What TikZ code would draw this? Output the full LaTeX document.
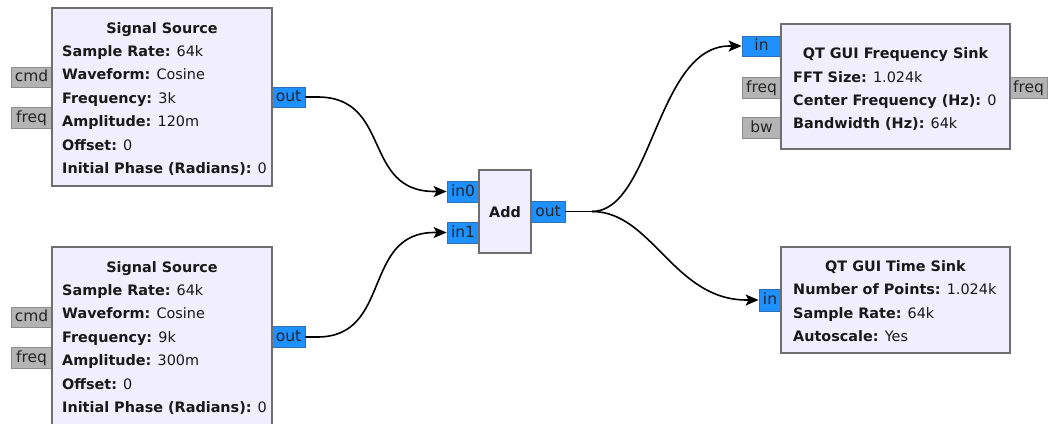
\documentclass[tikz,border=0pt]{standalone}
\usepackage{fontspec}
\setmainfont{DejaVu Sans}
\usetikzlibrary{arrows.meta,calc}
\definecolor{blkfill}{HTML}{F1EEFD}
\definecolor{blkdraw}{HTML}{6E6E6E}
\definecolor{pblue}{HTML}{1E90FF}
\definecolor{pbluedraw}{HTML}{2E6FB5}
\definecolor{pgray}{HTML}{B4B4B4}
\definecolor{pgraydraw}{HTML}{8E8E8E}
\tikzset{
  blk/.style={draw=blkdraw,fill=blkfill,line width=2pt},
  port/.style={line width=0.8pt,inner sep=0pt,font=\fontsize{15.5}{15.5}\selectfont,text=black!85,text height=12.5pt,text depth=3.5pt},
  bport/.style={port,draw=pbluedraw,fill=pblue},
  gport/.style={port,draw=pgraydraw,fill=pgray},
  ttl/.style={font=\bfseries\fontsize{14.4}{15}\selectfont,text=black!90,inner sep=0pt,text height=12pt,text depth=1.6pt},
  prm/.style={anchor=west,font=\fontsize{14.4}{15}\selectfont,text=black!90,inner sep=0pt,text height=12pt,text depth=1.6pt},
  conn/.style={line width=1.6pt,-{Stealth[length=13pt,width=11pt,inset=3pt]}},
  connb/.style={line width=1.6pt}
}
\begin{document}
\begin{tikzpicture}[x=1pt,y=-1pt]
\useasboundingbox (0,0) rectangle (1052,423);
\fill[white] (0,0) rectangle (1052,423);
\begin{scope}
\clip (0,0) rectangle (1052,423);
% ---------- Signal Source 1
\node[gport,minimum width=41pt,minimum height=20pt] (s1cmd) at (31.5,77) {cmd};
\node[gport,minimum width=41pt,minimum height=21pt] (s1freq) at (31.5,118) {freq};
\node[bport,minimum width=33pt,minimum height=20pt] (s1out) at (288.5,97) {out};
\draw[blk] (52,8) rectangle (272,186);
\node[ttl] (s1t) at (162,28) {Signal Source};
\node[prm] (s1a) at (62,51) {\textbf{Sample Rate:} 64k};
\node[prm] (s1b) at (62,74) {\textbf{Waveform:} Cosine};
\node[prm] (s1c) at (62,98) {\textbf{Frequency:} 3k};
\node[prm] (s1d) at (62,121) {\textbf{Amplitude:} 120m};
\node[prm] (s1e) at (62,145) {\textbf{Offset:} 0};
\node[prm] (s1f) at (62,168) {\textbf{Initial Phase (Radians):} 0};
% ---------- Signal Source 2
\node[gport,minimum width=41pt,minimum height=20pt] (s2cmd) at (31.5,317) {cmd};
\node[gport,minimum width=41pt,minimum height=21pt] (s2freq) at (31.5,357.5) {freq};
\node[bport,minimum width=33pt,minimum height=21pt] (s2out) at (288.5,337) {out};
\draw[blk] (52,247) rectangle (272,428);
\node[ttl] (s2t) at (162,267) {Signal Source};
\node[prm] (s2a) at (62,290) {\textbf{Sample Rate:} 64k};
\node[prm] (s2b) at (62,313) {\textbf{Waveform:} Cosine};
\node[prm] (s2c) at (62,337) {\textbf{Frequency:} 9k};
\node[prm] (s2d) at (62,360) {\textbf{Amplitude:} 300m};
\node[prm] (s2e) at (62,384) {\textbf{Offset:} 0};
\node[prm] (s2f) at (62,407) {\textbf{Initial Phase (Radians):} 0};
% ---------- Add
\node[bport,minimum width=32pt,minimum height=21pt] (in0) at (463,191.5) {in0};
\node[bport,minimum width=32pt,minimum height=21pt] (in1) at (463,232.5) {in1};
\node[bport,minimum width=34pt,minimum height=21pt] (aout) at (548,211.5) {out};
\draw[blk] (479,170) rectangle (531,253);
\node[ttl] (addt) at (505,212) {Add};
% ---------- QT GUI Frequency Sink
\node[bport,minimum width=39pt,minimum height=20pt] (fin) at (761.5,46) {in};
\node[gport,minimum width=39pt,minimum height=21pt] (ffreq) at (761.5,87.5) {freq};
\node[gport,minimum width=39pt,minimum height=21pt] (fbw) at (761.5,127.5) {bw};
\node[gport,minimum width=37pt,minimum height=21pt] (ffreqo) at (1028.5,87.5) {freq};
\draw[blk] (781,24) rectangle (1010,149);
\node[ttl] (ft) at (895.5,53) {QT GUI Frequency Sink};
\node[prm] (fa) at (793,77) {\textbf{FFT Size:} 1.024k};
\node[prm] (fb) at (793,100) {\textbf{Center Frequency (Hz):} 0};
\node[prm] (fc) at (793,123) {\textbf{Bandwidth (Hz):} 64k};
% ---------- QT GUI Time Sink
\node[bport,minimum width=22pt,minimum height=22pt] (tin) at (770,300) {in};
\draw[blk] (781,247) rectangle (1010,353);
\node[ttl] (tt) at (895.5,266) {QT GUI Time Sink};
\node[prm] (ta) at (793,289) {\textbf{Number of Points:} 1.024k};
\node[prm] (tb) at (793,313) {\textbf{Sample Rate:} 64k};
\node[prm] (tc) at (793,336) {\textbf{Autoscale:} Yes};
% ---------- connections
\coordinate (split) at (592,211.5);
\draw[conn] (s1out.east) -- ++(12,0) .. controls ++(75,0) and ($(in0.west)+(-85,0)$) .. ($(in0.west)+(-12,0)$) -- (in0.west);
\draw[conn] (s2out.east) -- ++(12,0) .. controls ++(75,0) and ($(in1.west)+(-85,0)$) .. ($(in1.west)+(-12,0)$) -- (in1.west);
\draw[connb] (aout.east) -- (split);
\draw[conn] (split) .. controls ++(60,0) and ($(fin.west)+(-85,0)$) .. ($(fin.west)+(-12,0)$) -- (fin.west);
\draw[conn] (split) .. controls ++(60,0) and ($(tin.west)+(-85,0)$) .. ($(tin.west)+(-12,0)$) -- (tin.west);
\end{scope}
\end{tikzpicture}
\end{document}
